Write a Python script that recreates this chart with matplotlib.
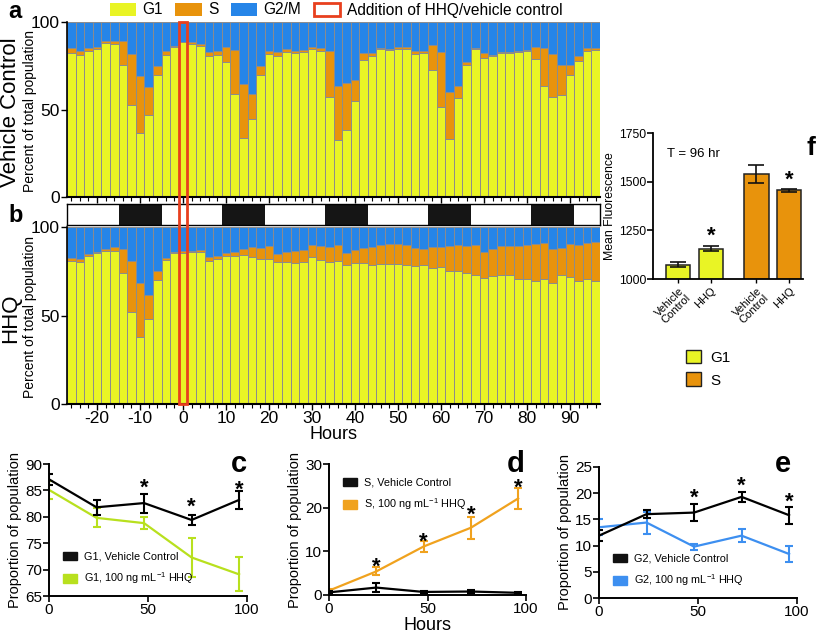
import numpy as np
import matplotlib
matplotlib.use("Agg")
from matplotlib import pyplot as plt
from matplotlib.patches import Patch, Rectangle
from matplotlib import transforms

plt.rcParams['font.family'] = ['Liberation Sans', 'DejaVu Sans']
plt.rcParams['mathtext.fontset'] = 'custom'
plt.rcParams['mathtext.rm'] = 'Liberation Sans'
plt.rcParams['axes.unicode_minus'] = False

# ---- data ----
hours = np.arange(-26, 97, 2)

vc_g1 = [82.3, 81.2, 83.6, 84.6, 87.8, 87.4, 75.2, 52.3, 36.7, 47.0, 69.5, 81.4, 85.9, 88.3,
         87.4, 86.5, 80.8, 81.4, 77.4, 59.0, 33.5, 44.7, 70.0, 81.8, 80.8, 82.7, 82.1, 83.0,
         84.6, 83.3, 57.0, 32.3, 38.2, 54.7, 78.2, 80.5, 84.6, 84.0, 84.6, 84.6, 81.8, 82.1,
         72.7, 51.7, 32.9, 56.8, 75.2, 84.6, 79.5, 80.5, 82.1, 82.1, 83.0, 83.6, 79.0, 63.5,
         57.3, 58.3, 69.5, 78.0, 83.6, 84.2]
vc_s = [2.7, 2.1, 1.4, 0.9, 1.5, 1.9, 13.7, 29.5, 32.3, 15.6, 5.3, 1.9, 0.6, 0.4,
        0.9, 0.9, 2.2, 1.9, 8.6, 25.0, 30.8, 13.9, 4.6, 1.8, 2.2, 1.9, 1.5, 1.2,
        0.9, 1.9, 26.6, 31.0, 27.0, 12.0, 4.1, 1.8, 0.6, 0.6, 0.9, 0.9, 1.5, 1.2,
        14.3, 31.0, 26.9, 6.5, 1.8, 0.6, 2.8, 0.9, 0.9, 0.6, 0.5, 0.4, 7.0, 21.5,
        24.5, 16.9, 5.7, 2.8, 1.4, 0.8]

hhq_g1 = [80.6, 80.5, 83.6, 85.3, 86.5, 86.5, 74.0, 51.7, 37.8, 48.1, 69.9, 81.2, 85.5, 85.5,
          85.9, 85.9, 80.8, 81.8, 83.8, 83.8, 84.0, 82.9, 82.1, 82.1, 80.1, 80.3, 79.7, 80.5,
          83.3, 81.4, 80.5, 80.6, 78.8, 79.7, 79.7, 78.4, 79.1, 79.1, 79.1, 78.6, 78.2, 78.4,
          77.1, 77.6, 75.4, 75.2, 74.1, 72.7, 71.4, 72.4, 73.1, 73.1, 70.7, 70.5, 69.7, 70.5,
          68.4, 72.7, 71.6, 69.5, 70.9, 69.5]
hhq_s = [2.1, 1.6, 1.0, 0.8, 0.9, 2.2, 13.6, 28.9, 30.6, 13.4, 5.3, 1.5, 0.4, 0.8,
         0.8, 1.3, 2.3, 2.0, 1.7, 2.1, 3.6, 5.6, 6.2, 7.4, 4.9, 5.4, 6.8, 6.7,
         6.4, 7.9, 8.0, 9.1, 6.5, 7.1, 8.5, 10.1, 10.7, 11.1, 11.1, 11.2, 9.8, 9.4,
         11.8, 11.1, 13.9, 14.5, 15.4, 17.1, 14.3, 15.4, 16.2, 16.2, 18.8, 19.3, 20.7, 20.5,
         19.2, 15.5, 18.8, 20.3, 19.9, 22.0]

dark_start = [-15, 9, 33, 57, 81]
dark_len = 10

t = [0, 24, 48, 72, 96]
g1_vc = [87.1, 81.8, 82.6, 79.4, 83.2]
g1_vc_err = [1.0, 1.4, 1.8, 1.0, 1.7]
g1_hhq = [85.1, 79.8, 78.8, 72.3, 69.1]
g1_hhq_err = [1.7, 1.8, 1.1, 3.7, 3.2]
s_vc = [0.6, 1.7, 0.7, 0.8, 0.5]
s_vc_err = [0.3, 1.0, 0.3, 0.3, 0.2]
s_hhq = [1.0, 5.4, 11.1, 15.4, 22.1]
s_hhq_err = [0.3, 0.9, 1.2, 2.5, 2.3]
g2_vc = [11.9, 16.0, 16.3, 19.3, 15.8]
g2_vc_err = [1.1, 0.8, 1.6, 1.0, 1.6]
g2_hhq = [13.5, 14.4, 9.8, 11.9, 8.4]
g2_hhq_err = [1.5, 2.1, 0.6, 1.3, 1.5]

f_labels = ['Vehicle\nControl', 'HHQ', 'Vehicle\nControl', 'HHQ']
f_vals = [1074, 1155, 1540, 1455]
f_err = [12, 13, 47, 7]

# ---- colours ----
yellow = '#e9f425'
orange = '#e8930c'
blue = '#2685e8'
red = '#e8401e'
lime = '#b8e01e'
orange2 = '#f0a21e'
blue2 = '#3d8ff0'

W, H = 825, 635
fig = plt.figure(figsize=(W / 100, H / 100), dpi=100)


def box(x0, y0, x1, y1):
    return [x0 / W, 1 - y1 / H, (x1 - x0) / W, (y1 - y0) / H]


def stacked(ax, g1, s):
    g1 = np.array(g1)
    s = np.array(s)
    kw = dict(width=2, edgecolor='#8c8c8c', linewidth=0.7)
    ax.bar(hours, g1, color=yellow, **kw)
    ax.bar(hours, s, bottom=g1, color=orange, **kw)
    ax.bar(hours, 100 - g1 - s, bottom=g1 + s, color=blue, **kw)
    ax.set_xlim(-27, 97)
    ax.set_ylim(0, 100)
    ax.set_yticks([0, 50, 100])
    ax.set_xticks(np.arange(-20, 91, 10))
    ax.set_xticks(hours, minor=True)
    ax.tick_params(axis='both', labelsize=12.5, length=4, width=1, pad=1)
    ax.tick_params(axis='x', which='minor', length=3, width=0.8)
    for sp in ['top', 'right']:
        ax.spines[sp].set_visible(False)
    ax.spines['bottom'].set_linewidth(1.5)
    ax.spines['left'].set_linewidth(1.2)


ax_a = fig.add_axes(box(67, 22, 600, 197))
stacked(ax_a, vc_g1, vc_s)
ax_a.tick_params(axis='x', labelbottom=False)

ax_strip = fig.add_axes(box(67, 204, 600, 225))
ax_strip.set_xlim(-27, 97)
ax_strip.set_ylim(0, 1)
for d in dark_start:
    ax_strip.add_patch(Rectangle((d, 0), dark_len, 1, color='#151515', lw=0))
ax_strip.set_xticks([])
ax_strip.set_yticks([])
for sp in ax_strip.spines.values():
    sp.set_linewidth(1)

ax_b = fig.add_axes(box(67, 227, 600, 404))
stacked(ax_b, hhq_g1, hhq_s)
ax_b.set_xlabel('Hours', fontsize=13, labelpad=0)

# addition marker spanning both panels
tr = transforms.blended_transform_factory(ax_b.transData, fig.transFigure)
y0 = 1 - 404 / H
y1 = 1 - 22 / H
fig.patches.append(Rectangle((-1, y0), 2, y1 - y0, transform=tr, fill=False,
                             edgecolor=red, linewidth=2, zorder=10))

fig.text(11 / W, 1 - 112 / H, 'Vehicle Control', rotation=90, fontsize=16,
         ha='center', va='center')
fig.text(30 / W, 1 - 111 / H, 'Percent of total population', rotation=90,
         fontsize=10, ha='center', va='center')
fig.text(11 / W, 1 - 318 / H, 'HHQ', rotation=90, fontsize=16,
         ha='center', va='center')
fig.text(30 / W, 1 - 317 / H, 'Percent of total population', rotation=90,
         fontsize=10, ha='center', va='center')
fig.text(8 / W, 1 - 12 / H, 'a', fontsize=17, fontweight='bold', va='center')
fig.text(8 / W, 1 - 216 / H, 'b', fontsize=17, fontweight='bold', va='center')

top_handles = [Patch(facecolor=yellow), Patch(facecolor=orange), Patch(facecolor=blue),
               Patch(facecolor='none', edgecolor=red, linewidth=2)]
fig.legend(top_handles, ['G1', 'S', 'G2/M', 'Addition of HHQ/vehicle control'],
           loc='center', bbox_to_anchor=(336 / W, 1 - 10 / H), ncol=4, frameon=False,
           fontsize=11.2, handlelength=1.7, handleheight=0.9, handletextpad=0.4,
           columnspacing=0.8, borderpad=0)


# ---- line panels ----
def line_panel(ax, yv, ye, yh, he, col, lab_v, lab_h, ylim, yticks, stars, legloc):
    ax.errorbar(t, yv, yerr=ye, color='black', lw=1.6, capsize=3, elinewidth=1.5,
                capthick=1.5, zorder=3)
    ax.errorbar(t, yh, yerr=he, color=col, lw=1.6, capsize=3, elinewidth=1.5,
                capthick=1.5, zorder=2)
    ax.set_xlim(0, 100)
    ax.set_ylim(*ylim)
    ax.set_yticks(yticks)
    ax.set_xticks([0, 50, 100])
    ax.tick_params(labelsize=11, length=4, width=1.2, pad=1)
    for sp in ['top', 'right']:
        ax.spines[sp].set_visible(False)
    for sp in ['left', 'bottom']:
        ax.spines[sp].set_linewidth(1.4)
    ax.set_ylabel('Proportion of population', fontsize=10.5, labelpad=2)
    for x, yy in stars:
        ax.text(x, yy, '*', fontsize=16, ha='center', va='center', fontweight='bold')
    handles = [Patch(facecolor='#111111', edgecolor='#111111'), Patch(facecolor=col, edgecolor=col)]
    if legloc == 'lower':
        ax.legend(handles, [lab_v, lab_h], loc='lower left', bbox_to_anchor=(0.02, 0.0),
                  frameon=False, fontsize=7.8, handlelength=1.3, handleheight=0.8,
                  handletextpad=0.7, labelspacing=0.8)
    else:
        ax.legend(handles, [lab_v, lab_h], loc='upper left', bbox_to_anchor=(0.02, 0.97),
                  frameon=False, fontsize=7.8, handlelength=1.3, handleheight=0.8,
                  handletextpad=0.7, labelspacing=0.8)


sup = r' 100 ng mL$^{-1}$ HHQ'
ax_c = fig.add_axes(box(49, 464, 247, 596))
line_panel(ax_c, g1_vc, g1_vc_err, g1_hhq, g1_hhq_err, lime, 'G1, Vehicle Control',
           'G1,' + sup, (65, 90), [65, 70, 75, 80, 85, 90],
           [(48, 85.5), (72, 81.9), (96, 85.1)], 'lower')
ax_c.text(0.96, 1.0, 'c', transform=ax_c.transAxes, fontsize=21, fontweight='bold',
          ha='center', va='center')

ax_d = fig.add_axes(box(329, 464, 526, 595))
line_panel(ax_d, s_vc, s_vc_err, s_hhq, s_hhq_err, orange2, 'S, Vehicle Control',
           'S,' + sup, (0, 30), [0, 10, 20, 30],
           [(24, 6.4), (48, 12.1), (72, 18.2), (96, 24.4)], 'upper')
ax_d.set_xlabel('Hours', fontsize=13, labelpad=1)
ax_d.text(0.95, 1.0, 'd', transform=ax_d.transAxes, fontsize=21, fontweight='bold',
          ha='center', va='center')

ax_e = fig.add_axes(box(599, 467, 797, 598))
line_panel(ax_e, g2_vc, g2_vc_err, g2_hhq, g2_hhq_err, blue2, 'G2, Vehicle Control',
           'G2,' + sup, (0, 25), [0, 5, 10, 15, 20, 25],
           [(48, 19.1), (72, 21.3), (96, 18.2)], 'lower')
ax_e.text(0.93, 1.02, 'e', transform=ax_e.transAxes, fontsize=21, fontweight='bold',
          ha='center', va='center')

# ---- panel f ----
ax_f = fig.add_axes(box(653, 133, 803, 279))
fx = [0, 1, 2.4, 3.4]
fcol = [yellow, yellow, orange, orange]
ax_f.bar(fx, f_vals, width=0.74, color=fcol, edgecolor='#222222', linewidth=1.1)
ax_f.errorbar(fx, f_vals, yerr=f_err, fmt='none', ecolor='#111111', elinewidth=1.2,
              capsize=6, capthick=1.2)
ax_f.set_ylim(1000, 1750)
ax_f.set_xlim(-0.78, 3.83)
ax_f.set_yticks([1000, 1250, 1500, 1750])
ax_f.set_xticks(fx)
ax_f.set_xticklabels(f_labels, rotation=45, ha='right', rotation_mode='anchor',
                     fontsize=8, linespacing=1.0)
ax_f.tick_params(axis='y', labelsize=8.8, length=4, width=1.2, pad=1)
ax_f.tick_params(axis='x', length=3, width=1, pad=2)
for sp in ['top', 'right']:
    ax_f.spines[sp].set_visible(False)
for sp in ['left', 'bottom']:
    ax_f.spines[sp].set_linewidth(1.3)
ax_f.set_ylabel('Mean Fluorescence', fontsize=8.8, labelpad=2)
ax_f.text(1, 1222, '*', fontsize=16, ha='center', va='center', fontweight='bold')
ax_f.text(3.4, 1505, '*', fontsize=16, ha='center', va='center', fontweight='bold')
ax_f.text(-0.35, 1644, 'T = 96 hr', fontsize=9.5, ha='left', va='center')
ax_f.text(1.05, 0.9, 'f', transform=ax_f.transAxes, fontsize=19, fontweight='bold',
          ha='center', va='center')

f_handles = [Patch(facecolor=yellow, edgecolor='#222222'), Patch(facecolor=orange, edgecolor='#222222')]
fig.legend(f_handles, ['G1', 'S'], loc='upper left', bbox_to_anchor=(672 / W, 1 - 336 / H),
           frameon=False, fontsize=11, handlelength=1.0, handleheight=1.0,
           handletextpad=0.6, labelspacing=0.5)

fig.savefig('out.png', dpi=100)
